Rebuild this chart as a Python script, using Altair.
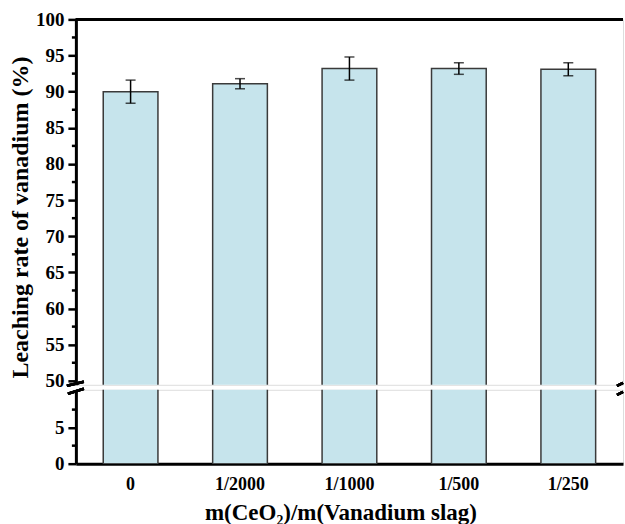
import altair as alt
import pandas as pd

categories = ["0", "1/2000", "1/1000", "1/500", "1/250"]
rate = [90.0, 91.1, 93.2, 93.2, 93.1]
err = [1.6, 0.7, 1.6, 0.8, 0.9]

major_upper = [50, 55, 60, 65, 70, 75, 80, 85, 90, 95, 100]
minor_upper = [52.5, 57.5, 62.5, 67.5, 72.5, 77.5, 82.5, 87.5, 92.5, 97.5]
major_lower = [0, 5]
minor_lower = [2.5, 7.5]

df = pd.DataFrame({
    "cat": categories,
    "rate": rate,
    "lo": [r - e for r, e in zip(rate, err)],
    "hi": [r + e for r, e in zip(rate, err)],
})
df_minor_u = pd.DataFrame({"v": minor_upper})
df_minor_l = pd.DataFrame({"v": minor_lower})

FONT = "Liberation Serif"
W = 548
HU = 366
HL = 74
FILL = "#c6e4ec"
EDGE = "#3a3a3a"

xscale = alt.Scale(domain=categories, paddingInner=0.5, paddingOuter=0.25)
yu = alt.Scale(domain=[49.45, 100], nice=False, zero=False)
yl = alt.Scale(domain=[0, 10.25], nice=False, zero=False)

axis_u = alt.Axis(
    values=major_upper, title="Leaching rate of vanadium (%)",
    titleX=-55, titleY=198, titleBaseline="middle",
    titleFont=FONT, titleFontSize=24, titleFontWeight="bold", titleColor="black",
    labelFont=FONT, labelFontSize=19, labelFontWeight="bold", labelColor="black",
    labelPadding=4, tickSize=8, tickWidth=2.5, tickColor="black",
    domainWidth=3, domainColor="black", grid=False)
axis_l = alt.Axis(
    values=major_lower, title=None,
    labelFont=FONT, labelFontSize=19, labelFontWeight="bold", labelColor="black",
    labelPadding=4, tickSize=8, tickWidth=2.5, tickColor="black",
    domainWidth=3, domainColor="black", grid=False)
xaxis_l = alt.Axis(
    title="m(CeO\u2082)/m(Vanadium slag)", labelAngle=0, ticks=False,
    titleFont=FONT, titleFontSize=23, titleFontWeight="bold", titleColor="black",
    titleX=265, titleAlign="center", titlePadding=8,
    labelFont=FONT, labelFontSize=18, labelFontWeight="bold", labelColor="black",
    labelPadding=12, domainWidth=3, domainColor="black", grid=False)

X_u = alt.X("cat:N", sort=categories, scale=xscale, axis=None)

# ---------- upper panel ----------
base_u = alt.Chart(df)
bars_u = base_u.mark_bar(fill=FILL, stroke=EDGE, strokeWidth=1.5, clip=True).encode(
    x=X_u,
    y=alt.Y("rate:Q", scale=yu, axis=axis_u),
    y2=alt.datum(0),
)
err_rule = base_u.mark_rule(color="black", strokeWidth=1.5).encode(
    x=X_u,
    y=alt.Y("lo:Q", scale=yu, axis=axis_u),
    y2="hi:Q",
)
cap_lo = base_u.mark_tick(color="black", thickness=1.5, size=10, orient="horizontal").encode(
    x=X_u,
    y=alt.Y("lo:Q", scale=yu, axis=axis_u),
)
cap_hi = base_u.mark_tick(color="black", thickness=1.5, size=10, orient="horizontal").encode(
    x=X_u,
    y=alt.Y("hi:Q", scale=yu, axis=axis_u),
)
minor_u = alt.Chart(df_minor_u).mark_rule(color="black", strokeWidth=2.5).encode(
    y=alt.Y("v:Q", scale=yu, axis=axis_u),
    x=alt.value(-4), x2=alt.value(0),
)
top_line = alt.Chart(df).mark_rule(color="black", strokeWidth=3).encode(
    x=alt.value(0), x2=alt.value(W), y=alt.value(0)
)
anchor = alt.Chart(df).mark_rule(color="white", strokeWidth=1, opacity=0).encode(
    x=alt.value(-75), x2=alt.value(-75), y=alt.value(-18), y2=alt.value(0)
)
brk_u_left = alt.Chart(df).mark_rule(color="black", strokeWidth=2.5).encode(
    x=alt.value(-9), x2=alt.value(8), y=alt.value(HU + 1), y2=alt.value(HU - 3)
)
brk_u_right = alt.Chart(df).mark_rule(color="black", strokeWidth=2.5).encode(
    x=alt.value(W - 6), x2=alt.value(W), y=alt.value(HU + 1), y2=alt.value(HU - 2)
)

upper = alt.layer(bars_u, err_rule, cap_lo, cap_hi, minor_u, top_line, anchor,
                  brk_u_left, brk_u_right).properties(width=W, height=HU)

# ---------- lower panel ----------
X_l = alt.X("cat:N", sort=categories, scale=xscale, axis=xaxis_l)
bars_l = alt.Chart(df).mark_bar(fill=FILL, stroke=EDGE, strokeWidth=1.5, clip=True).encode(
    x=X_l,
    y=alt.Y("rate:Q", scale=yl, axis=axis_l),
    y2=alt.datum(0),
)
minor_l = alt.Chart(df_minor_l).mark_rule(color="black", strokeWidth=2.5).encode(
    y=alt.Y("v:Q", scale=yl, axis=axis_l),
    x=alt.value(-4), x2=alt.value(0),
)
brk_l_left = alt.Chart(df).mark_rule(color="black", strokeWidth=2.5).encode(
    x=alt.value(-8), x2=alt.value(8), y=alt.value(4), y2=alt.value(-1)
)
brk_l_right = alt.Chart(df).mark_rule(color="black", strokeWidth=2.5).encode(
    x=alt.value(W - 6), x2=alt.value(W), y=alt.value(5), y2=alt.value(2)
)
lower = alt.layer(bars_l, minor_l, brk_l_left, brk_l_right).properties(width=W, height=HL)

chart = alt.vconcat(upper, lower, spacing=5, bounds="flush").properties(
    padding={"left": 0, "top": 0, "right": 0, "bottom": 0}
).configure_view(stroke=None, strokeWidth=0).configure(background="white")

chart.save("out.html", embed_options={"renderer": "svg", "actions": False})
